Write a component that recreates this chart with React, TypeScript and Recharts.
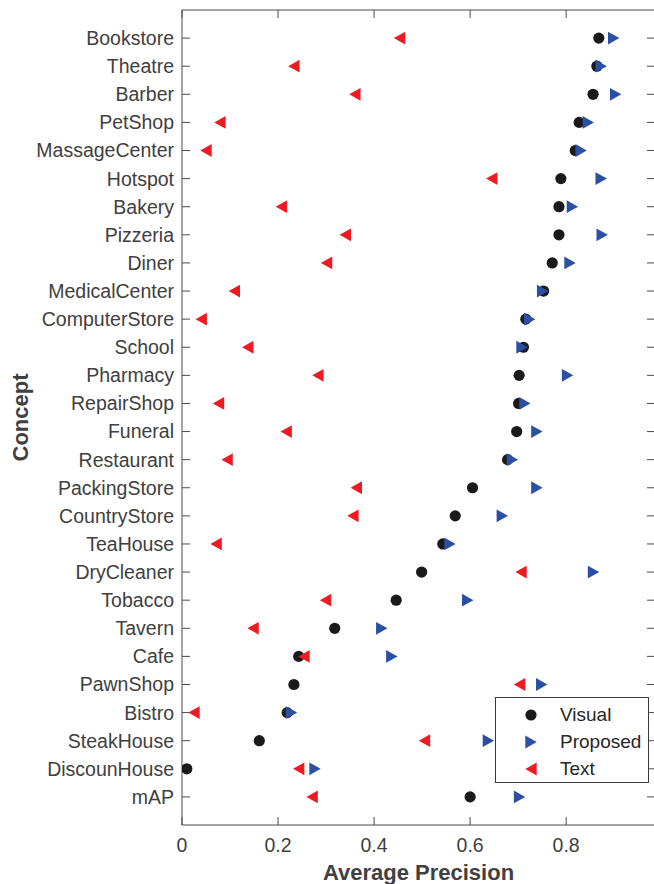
import { Label, Legend, Scatter, ScatterChart, XAxis, YAxis } from "recharts";

const concepts = [
  "Bookstore", "Theatre", "Barber", "PetShop", "MassageCenter", "Hotspot", "Bakery",
  "Pizzeria", "Diner", "MedicalCenter", "ComputerStore", "School", "Pharmacy",
  "RepairShop", "Funeral", "Restaurant", "PackingStore", "CountryStore", "TeaHouse",
  "DryCleaner", "Tobacco", "Tavern", "Cafe", "PawnShop", "Bistro", "SteakHouse",
  "DiscounHouse", "mAP",
];

const visual = [
  0.868, 0.864, 0.856, 0.827, 0.819, 0.789, 0.785, 0.785, 0.771, 0.753, 0.716, 0.711,
  0.702, 0.701, 0.697, 0.678, 0.605, 0.569, 0.543, 0.499, 0.446, 0.318, 0.243, 0.233,
  0.219, 0.161, 0.01, 0.6,
];

const proposed = [
  0.899, 0.873, 0.903, 0.846, 0.831, 0.873, 0.813, 0.875, 0.808, 0.751, 0.724, 0.708,
  0.803, 0.714, 0.739, 0.688, 0.739, 0.667, 0.558, 0.857, 0.595, 0.416, 0.437, 0.749,
  0.228, 0.638, 0.277, 0.703,
];

const text = [
  0.453, 0.233, 0.36, 0.079, 0.05, 0.645, 0.207, 0.34, 0.301, 0.109, 0.04, 0.137,
  0.283, 0.076, 0.217, 0.094, 0.363, 0.356, 0.071, 0.706, 0.299, 0.148, 0.254, 0.703,
  0.025, 0.505, 0.243, 0.271,
];

const xTicks = [0, 0.2, 0.4, 0.6, 0.8];
const yTicks = concepts.map((_, i) => i + 1);

const FONT = "'Liberation Sans', Arial, Helvetica, sans-serif";
const BLACK = "#1a1a1a";
const BLUE = "#2b4fa3";
const RED = "#ed1c24";

const toPoints = (vals: number[]) => vals.map((v, i) => ({ x: v, y: i + 1, name: concepts[i] }));

const visualPts = toPoints(visual);
const proposedPts = toPoints(proposed);
const textPts = toPoints(text);

const Dot = ({ cx, cy }: any) => <circle cx={cx} cy={cy} r={5.6} fill={BLACK} />;

const RightTri = ({ cx, cy }: any) => (
  <path d={`M${cx - 5.7},${cy - 6.4}L${cx + 5.7},${cy}L${cx - 5.7},${cy + 6.4}Z`} fill={BLUE} />
);

const LeftTri = ({ cx, cy }: any) => (
  <path d={`M${cx + 5.7},${cy - 6.4}L${cx - 5.7},${cy}L${cx + 5.7},${cy + 6.4}Z`} fill={RED} />
);

const legendItems = [
  { label: "Visual", Icon: Dot },
  { label: "Proposed", Icon: RightTri },
  { label: "Text", Icon: LeftTri },
];

function LegendBox() {
  return (
    <div
      style={{
        boxSizing: "border-box",
        width: 154,
        height: 86,
        background: "#fff",
        border: "1px solid #3a3a3a",
        paddingTop: 4,
        fontFamily: FONT,
        fontSize: 19,
        color: "#262626",
      }}
    >
      {legendItems.map(({ label, Icon }) => (
        <div key={label} style={{ display: "flex", alignItems: "center", height: 26.7 }}>
          <svg width={64} height={20} style={{ flex: "none" }}>
            <Icon cx={35} cy={10} />
          </svg>
          <span>{label}</span>
        </div>
      ))}
    </div>
  );
}

const tickStyle = { fontSize: 19.5, fill: "#404040", fontFamily: FONT };
const titleStyle = { fontSize: 22, fontWeight: "bold", fill: "#404040", fontFamily: FONT };
const axisStroke = "#4a4a4a";

export default function App() {
  return (
    <div style={{ position: "absolute", left: 0, top: 0, width: 654, height: 884, overflow: "hidden", background: "#fff" }}>
      <ScatterChart width={664} height={884} margin={{ top: 9, right: 8, bottom: 0, left: 10 }}>
        <XAxis
          xAxisId="b"
          type="number"
          dataKey="x"
          domain={[0, 0.985]}
          ticks={xTicks}
          interval={0}
          height={59}
          tickSize={-8}
          tickMargin={21}
          tick={tickStyle}
          stroke={axisStroke}
          allowDataOverflow
        >
          <Label value="Average Precision" position="insideBottom" offset={4} style={titleStyle} />
        </XAxis>
        <XAxis
          xAxisId="t"
          orientation="top"
          type="number"
          dataKey="x"
          domain={[0, 0.985]}
          ticks={xTicks}
          interval={0}
          height={1}
          tickSize={-8}
          tickFormatter={() => ""}
          stroke={axisStroke}
          allowDataOverflow
        />
        <YAxis
          yAxisId="l"
          type="number"
          dataKey="y"
          domain={[0, 29]}
          reversed
          ticks={yTicks}
          interval={0}
          width={172}
          tickSize={-8}
          tickMargin={16}
          tickFormatter={(v: number) => concepts[v - 1] ?? ""}
          tick={tickStyle}
          stroke={axisStroke}
          allowDataOverflow
        >
          <Label
            content={({ viewBox }: any) => {
              const cx = viewBox.x + 10;
              const cy = viewBox.y + viewBox.height / 2;
              return (
                <text
                  x={cx}
                  y={cy}
                  transform={`rotate(-90, ${cx}, ${cy})`}
                  textAnchor="middle"
                  dominantBaseline="central"
                  style={titleStyle}
                >
                  Concept
                </text>
              );
            }}
          />
        </YAxis>
        <YAxis
          yAxisId="r"
          orientation="right"
          type="number"
          dataKey="y"
          domain={[0, 29]}
          reversed
          ticks={yTicks}
          interval={0}
          width={1}
          tickSize={-8}
          tickFormatter={() => ""}
          stroke={axisStroke}
          allowDataOverflow
        />
        <Legend
          layout="horizontal"
          verticalAlign="middle"
          align="center"
          content={() => <LegendBox />}
          wrapperStyle={{ left: 495, top: 697, width: 154, height: 86 }}
        />
        <Scatter name="Visual" data={visualPts} xAxisId="b" yAxisId="l" shape={Dot} isAnimationActive={false} />
        <Scatter name="Proposed" data={proposedPts} xAxisId="b" yAxisId="l" shape={RightTri} isAnimationActive={false} />
        <Scatter name="Text" data={textPts} xAxisId="b" yAxisId="l" shape={LeftTri} isAnimationActive={false} />
        <Scatter data={visualPts} xAxisId="t" yAxisId="r" shape={() => <g />} legendType="none" isAnimationActive={false} />
      </ScatterChart>
    </div>
  );
}
